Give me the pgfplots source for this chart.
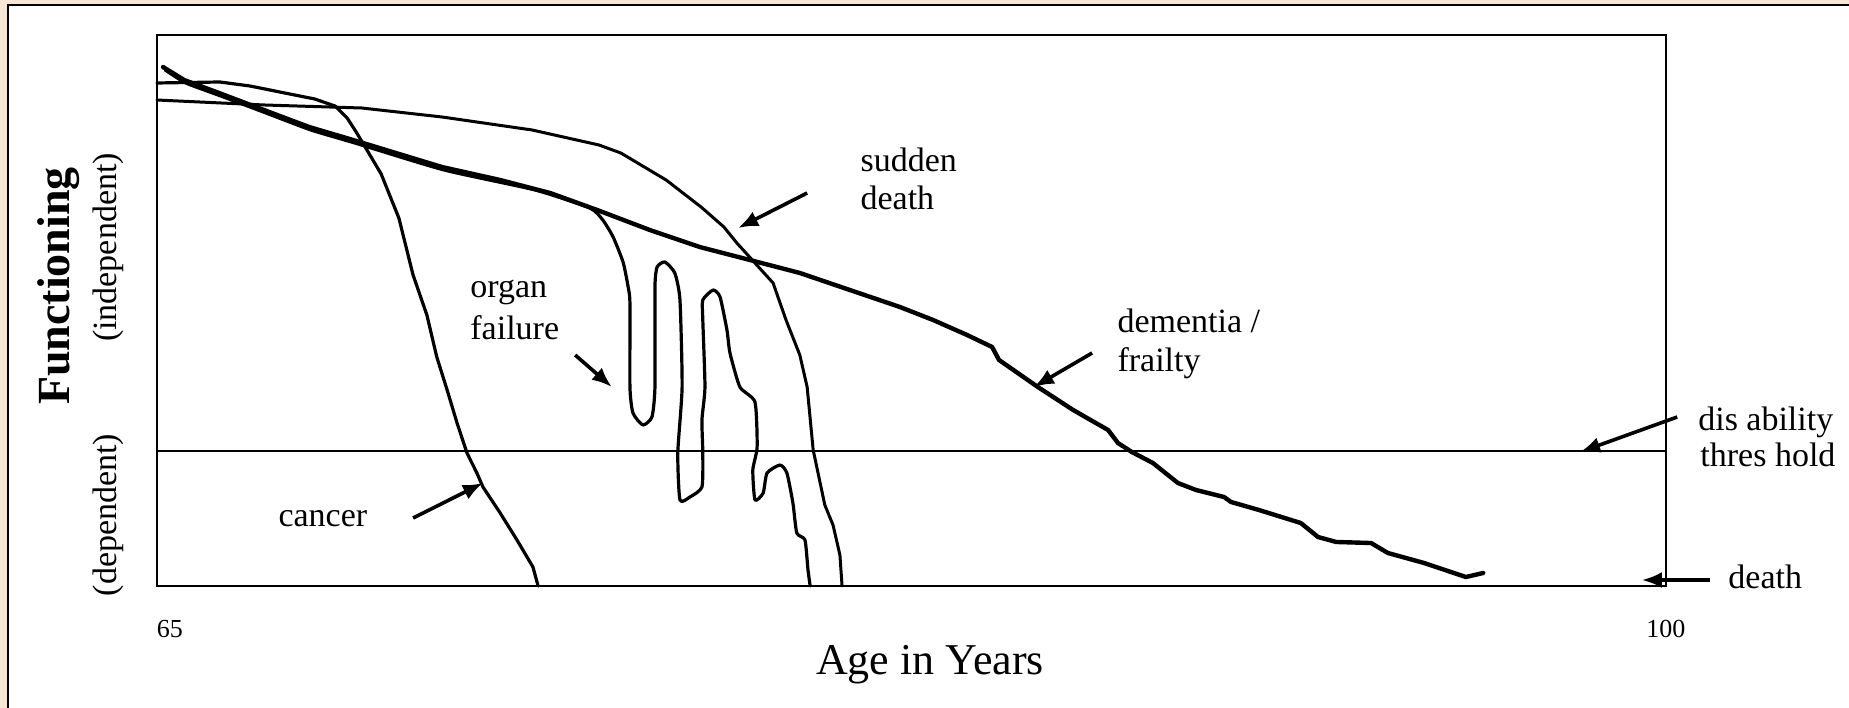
\documentclass[border=0pt]{standalone}
\usepackage{pgfplots}
\pgfplotsset{compat=1.18}
\usepackage{fontspec}
\setmainfont{Liberation Serif}
\usetikzlibrary{arrows.meta}
\definecolor{framebg}{RGB}{246,230,211}
\newcommand{\annot}{\fontsize{17}{19}\selectfont}
\begin{document}
\begin{tikzpicture}
\begin{axis}[
  scale only axis, width=754.5pt, height=275.5pt,
  xmin=65, xmax=100, ymin=0, ymax=100,
  xtick={65,100}, xticklabels={\makebox[0pt][l]{65},100},
  ytick=\empty, major tick length=0pt,
  axis line style={line width=1.3pt},
  clip=false,
  xticklabel style={anchor=base, yshift=-25.5pt, inner sep=0pt, font=\fontsize{13}{13}\selectfont},
  xlabel={Age in Years},
  xlabel style={at={(axis description cs:0.5123,-0.1615)}, anchor=base, inner sep=0pt, font=\fontsize{22}{22}\selectfont},
  ylabel={Functioning},
  ylabel style={at={(axis description cs:-0.0577,0.5445)}, rotate=0, anchor=base, inner sep=0pt, font=\bfseries\fontsize{23}{23}\selectfont},
  every axis plot/.append style={black, line join=round, line cap=round},
]
\coordinate (BL) at (axis cs:61.359,-22.14);
\coordinate (TR) at (axis cs:104.245,106.35);
% outer frame of the picture
\fill[framebg] (axis cs:61.359,-22.14) rectangle (axis cs:61.544,106.35);
\fill[framebg] (axis cs:61.359,105.44) rectangle (axis cs:104.245,106.35);
\draw[line width=1pt] (axis cs:61.544,-22.14) -- (axis cs:61.544,105.44) -- (axis cs:104.245,105.44);

% disability threshold
\addplot[line width=1pt, line cap=butt] coordinates {(65,24.5) (100,24.5)};

% cancer
\addplot[line width=1.6pt] coordinates {
(65.00,91.29) (66.46,91.47) (67.16,90.74) (68.08,89.29) (68.66,88.38) (69.13,87.11)
(69.41,84.94) (69.62,82.40) (69.87,79.13) (70.20,74.77) (70.61,66.79) (70.94,56.44)
(71.26,49.18) (71.49,41.56) (71.73,35.57) (71.96,29.58) (72.19,24.14) (72.42,20.51)
(72.56,17.97) (72.96,13.25) (73.35,8.35) (73.72,3.45) (73.84,0)};

% sudden death
\addplot[line width=1.5pt] coordinates {
(65.00,88.20) (67.48,87.30) (69.75,86.75) (71.61,85.12) (73.70,82.76) (75.25,80.04)
(75.76,78.58) (76.81,73.68) (77.62,68.78) (78.15,65.15) (78.45,62.25) (78.87,58.62)
(79.29,54.99) (79.59,48.28) (79.91,41.92) (80.08,36.12) (80.22,24.68) (80.49,14.70)
(80.68,11.07) (80.84,5.63) (80.89,0)};

% dementia / frailty
\addplot[line width=2.2pt] coordinates {
(65.14,94.19) (65.63,91.83) (66.44,89.47) (67.48,86.39) (68.53,83.30) (69.55,80.94)
(71.61,76.04) (72.96,73.68) (74.12,71.32) (75.21,68.24) (76.43,64.61) (77.59,61.52)
(78.75,59.17) (79.91,56.81) (81.07,53.72) (82.23,50.64) (83.00,48.28) (83.79,45.55)
(84.37,43.38) (84.53,41.02) (85.43,36.12) (86.25,31.94) (87.06,28.31) (87.29,25.95)
(87.61,24.32) (88.10,22.32) (88.68,18.69) (89.10,17.42) (89.75,16.15) (89.91,15.25)
(90.56,13.79) (91.53,11.43) (91.93,8.89) (92.35,7.99) (93.16,7.80) (93.55,5.99)
(94.39,4.17) (95.36,1.63) (95.76,2.36)};

% organ failure
\addplot[line width=1.6pt, smooth, tension=0.35] coordinates {
(65.19,93.65) (65.67,91.29) (66.48,88.93) (67.53,85.84) (68.57,82.76) (69.59,80.40)
(71.66,75.50) (73.77,71.87) (75.04,68.60) (75.34,66.42) (75.58,63.34) (75.81,58.80)
(75.92,54.63) (75.97,51.36) (75.97,36.12) (76.04,31.40) (76.27,29.22) (76.48,30.67)
(76.55,36.12) (76.55,54.26) (76.60,57.89) (76.78,58.80) (77.01,56.81) (77.13,51.91)
(77.18,36.12) (77.08,24.14) (77.13,15.61) (77.36,16.15) (77.64,17.97) (77.66,24.14)
(77.64,30.13) (77.71,36.12) (77.66,48.28) (77.66,51.91) (77.90,53.72) (78.06,52.45)
(78.22,46.46) (78.29,42.29) (78.52,36.12) (78.87,33.39) (78.92,25.23) (78.82,21.05)
(78.87,15.61) (79.06,16.88) (79.15,20.51) (79.45,21.96) (79.61,20.51) (79.75,15.06)
(79.84,9.62) (80.03,8.35) (80.10,2.90) (80.15,0)};

% labels inside / around the plot
\node[anchor=base west, font=\annot, inner sep=0pt] at (axis cs:81.31,75.14) {sudden};
\node[anchor=base west, font=\annot, inner sep=0pt] at (axis cs:81.31,68.24) {death};
\node[anchor=base west, font=\annot, inner sep=0pt] at (axis cs:72.26,52.27) {organ};
\node[anchor=base west, font=\annot, inner sep=0pt] at (axis cs:72.26,44.65) {failure};
\node[anchor=base west, font=\annot, inner sep=0pt] at (axis cs:87.27,45.92) {dementia /};
\node[anchor=base west, font=\annot, inner sep=0pt] at (axis cs:87.27,38.84) {frailty};
\node[anchor=base west, font=\annot, inner sep=0pt] at (axis cs:67.81,10.71) {cancer};
\node[anchor=base west, font=\annot, inner sep=0pt] at (axis cs:100.74,28.31) {dis ability};
\node[anchor=base west, font=\annot, inner sep=0pt] at (axis cs:100.79,21.60) {thres hold};
\node[anchor=base west, font=\annot, inner sep=0pt] at (axis cs:101.44,-0.54) {death};
\node[rotate=90, anchor=base, font=\annot, inner sep=0pt] at (axis cs:64.05,61.43) {(independent)};
\node[rotate=90, anchor=base, font=\annot, inner sep=0pt] at (axis cs:64.05,12.89) {(dependent)};

% arrows
\begin{scope}[line width=1.8pt, -{Latex[length=10pt,width=8pt]}]
\draw (axis cs:80.08,71.32) -- (axis cs:78.48,64.97);
\draw (axis cs:74.70,41.92) -- (axis cs:75.55,36.12);
\draw (axis cs:86.69,42.29) -- (axis cs:85.34,36.12);
\draw (axis cs:70.94,12.34) -- (axis cs:72.56,18.69);
\draw (axis cs:100.26,30.67) -- (axis cs:98.01,24.32);
\draw (axis cs:101.02,1.09) -- (axis cs:99.44,1.09);
\end{scope}
\end{axis}
\pgfresetboundingbox
\useasboundingbox (BL) rectangle (TR);
\end{tikzpicture}
\end{document}
